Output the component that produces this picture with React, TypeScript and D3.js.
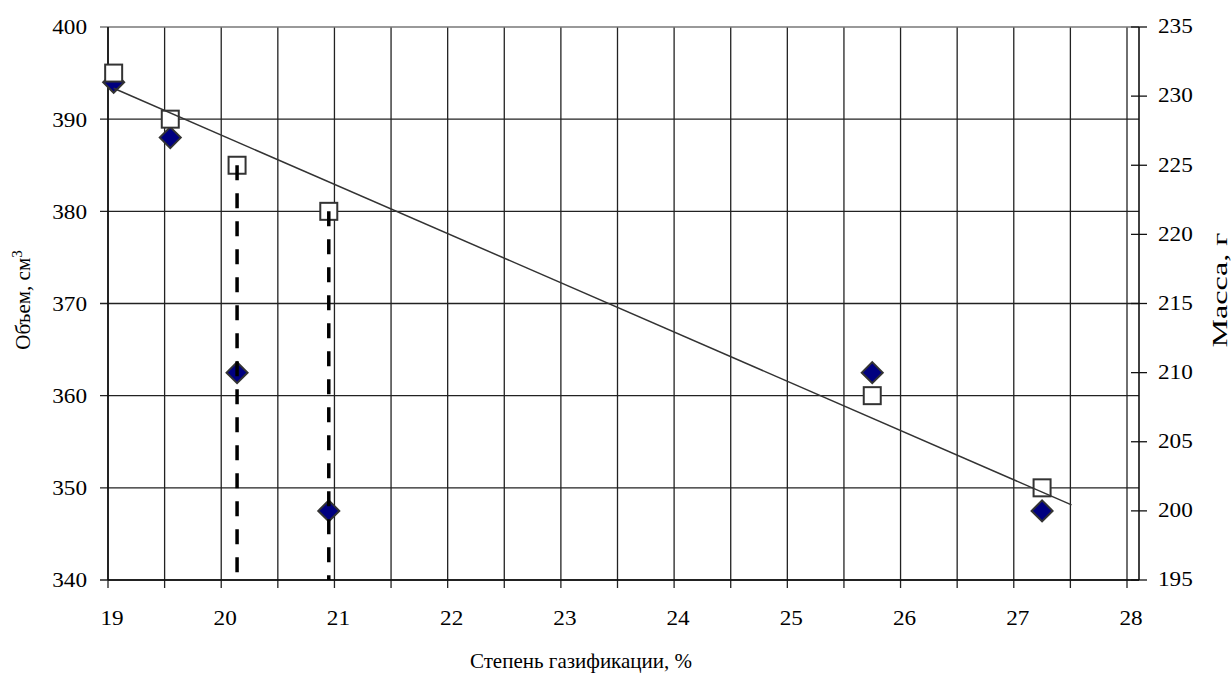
import React from "react";
import * as d3 from "d3";

// ---- data ----
const gasification = [19.05, 19.55, 20.14, 20.95, 25.75, 27.25];
const volume = [395, 390, 385, 380, 360, 350];
const mass = [231, 227, 210, 200, 210, 200];
const trendX = [19.05, 27.51];
const trendVolume = [393.35, 348.15];
const dropX = [20.14, 20.95];
const dropVolume = [385, 380];
const xTicks = [19, 20, 21, 22, 23, 24, 25, 26, 27, 28];
const leftTicks = [340, 350, 360, 370, 380, 390, 400];
const rightTicks = [195, 200, 205, 210, 215, 220, 225, 230, 235];

const W = 1232;
const H = 675;
const FONT = "'Liberation Serif', 'Times New Roman', serif";
const ts = { fontFamily: FONT };
const DIGIT_W = 11.6;

export default function App() {
  const x = d3.scaleLinear().domain([19, 28.106]).range([108, 1139]);
  const yL = d3.scaleLinear().domain([340, 400]).range([580, 27]);
  const yR = d3.scaleLinear().domain([195, 235]).range([580, 27]);
  const left = x.range()[0];
  const right = x.range()[1];
  const top = yL.range()[1];
  const bottom = yL.range()[0];
  const gridX = d3.range(19, 28.001, 0.5);

  const trendLine = d3
    .line<number>()
    .x((d) => x(d))
    .y((_, i) => yL(trendVolume[i]));

  const diamond = (cx: number, cy: number, r: number) =>
    `M${cx},${cy - r}L${cx + r},${cy}L${cx},${cy + r}L${cx - r},${cy}Z`;

  return (
    <svg
      width={W}
      height={H}
      style={{ position: "absolute", left: 0, top: 0, background: "#fff", fontFamily: FONT }}
    >
      <rect x={0} y={0} width={W} height={H} fill="#fff" />
      {/* vertical grid */}
      {gridX.map((v) => (
        <line key={"gx" + v} x1={x(v)} x2={x(v)} y1={top} y2={bottom + 8} stroke="#222" strokeWidth={1.3} />
      ))}
      {/* horizontal grid */}
      {leftTicks.map((v) => (
        <line
          key={"gy" + v}
          x1={left - 8}
          x2={right}
          y1={yL(v)}
          y2={yL(v)}
          stroke={v === 400 ? "#777" : "#222"}
          strokeWidth={1.3}
        />
      ))}
      {/* axes */}
      <line x1={left} x2={left} y1={top} y2={bottom} stroke="#111" strokeWidth={1.6} />
      <line x1={left} x2={right} y1={bottom} y2={bottom} stroke="#111" strokeWidth={1.6} />
      <line x1={right} x2={right} y1={top} y2={bottom} stroke="#111" strokeWidth={1.6} />
      {rightTicks.map((v) => (
        <line key={"rt" + v} x1={right - 8} x2={right + 8} y1={yR(v)} y2={yR(v)} stroke="#111" strokeWidth={1.3} />
      ))}
      {/* tick labels */}
      {leftTicks.map((v) => (
        <text
          key={"lt" + v}
          x={87}
          y={yL(v)}
          dy="0.35em"
          textAnchor="end"
          fontSize={21}
          fill="#000"
          style={ts}
          textLength={String(v).length * DIGIT_W}
          lengthAdjust="spacingAndGlyphs"
        >
          {v}
        </text>
      ))}
      {rightTicks.map((v) => (
        <text
          key={"rl" + v}
          x={1158}
          y={yR(v)}
          dy="0.3em"
          textAnchor="start"
          fontSize={21}
          fill="#000"
          style={ts}
          textLength={String(v).length * DIGIT_W}
          lengthAdjust="spacingAndGlyphs"
        >
          {v}
        </text>
      ))}
      {xTicks.map((v) => (
        <text
          key={"xt" + v}
          x={x(v) + 4}
          y={625}
          textAnchor="middle"
          fontSize={21}
          fill="#000"
          style={ts}
          textLength={String(v).length * DIGIT_W}
          lengthAdjust="spacingAndGlyphs"
        >
          {v}
        </text>
      ))}
      {/* axis titles */}
      <text x={581} y={668} textAnchor="middle" fontSize={21} fill="#000" style={ts}>
        Степень газификации, %
      </text>
      <text transform={`translate(30,300) rotate(-90)`} textAnchor="middle" fontSize={21} fill="#000" style={ts}>
        Объем, см<tspan dy={-8} fontSize={15}>3</tspan>
      </text>
      <text
        transform={`translate(1227,290) rotate(-90)`}
        textAnchor="middle"
        fontSize={21}
        fill="#000"
        textLength={115}
        lengthAdjust="spacingAndGlyphs"
        style={ts}
      >
        Масса, г
      </text>
      {/* mass diamonds (right axis) */}
      {gasification.map((g, i) => (
        <path key={"d" + i} d={diamond(x(g), yR(mass[i]), 10.5)} fill="#000080" stroke="#333" strokeWidth={2} />
      ))}
      {/* volume squares (left axis) */}
      {gasification.map((g, i) => (
        <rect
          key={"s" + i}
          x={x(g) - 8.5}
          y={yL(volume[i]) - 8.5}
          width={17}
          height={17}
          fill="#fff"
          stroke="#333"
          strokeWidth={2}
        />
      ))}
      {/* trend line */}
      <path d={trendLine(trendX) || ""} fill="none" stroke="#333" strokeWidth={1.5} />
      {/* dashed drop lines */}
      {dropX.map((g, i) => (
        <line
          key={"dl" + i}
          x1={x(g)}
          x2={x(g)}
          y1={yL(dropVolume[i])}
          y2={bottom}
          stroke="#000"
          strokeWidth={3.5}
          strokeDasharray="15,13"
        />
      ))}
    </svg>
  );
}
